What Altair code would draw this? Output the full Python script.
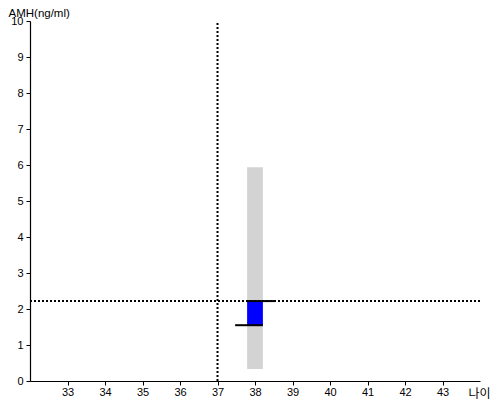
import altair as alt
import pandas as pd

# Data
age_ticks = [33, 34, 35, 36, 37, 38, 39, 40, 41, 42, 43]
amh_ticks = [0, 1, 2, 3, 4, 5, 6, 7, 8, 9, 10]

# grey reference range at age 38
range_x = [37.79]
range_x2 = [38.21]
range_low = [0.33]
range_high = [5.94]

# blue box (measured value band)
box_low = [1.55]
box_high = [2.22]

# black marker lines
line_x = [37.79, 37.47]
line_x2 = [38.53, 38.21]
line_y = [2.22, 1.55]

# dotted guides
guide_age = [37]
guide_amh = [2.22]

X_DOMAIN = [32, 44]
Y_DOMAIN = [0, 10]

xs = alt.Scale(domain=X_DOMAIN, nice=False, zero=False)
ys = alt.Scale(domain=Y_DOMAIN, nice=False)

x_axis = alt.Axis(values=age_ticks, title="나이", grid=False, domainColor="black",
                  tickColor="black", labelColor="black", labelFont="Liberation Sans",
                  labelFontSize=11, tickSize=4, domainWidth=1.2, tickWidth=1,
                  labelOverlap=False, labelFlush=False,
                  titleFont="Noto Sans CJK KR", titleFontSize=12, titleFontWeight="normal",
                  titleAnchor="start", titleAlign="left", titleX=438, titleY=16,
                  titleBaseline="alphabetic", labelPadding=1)
y_axis = alt.Axis(values=amh_ticks, title="AMH(ng/ml)", grid=False, domainColor="black",
                  tickColor="black", labelColor="black", labelFont="Liberation Sans",
                  labelFontSize=11, tickSize=4, domainWidth=1.2, tickWidth=1,
                  labelOverlap=False, labelFlush=False,
                  titleFont="Liberation Sans", titleFontSize=11.5, titleFontWeight="normal",
                  titleAngle=0, titleAlign="left", titleX=-22, titleY=-5,
                  titleBaseline="alphabetic", labelPadding=3)

df_range = pd.DataFrame({"x": range_x, "x2": range_x2, "lo": range_low, "hi": range_high})
df_box = pd.DataFrame({"x": range_x, "x2": range_x2, "lo": box_low, "hi": box_high})
df_lines = pd.DataFrame({"x": line_x, "x2": line_x2, "y": line_y})
df_vg = pd.DataFrame({"x": guide_age, "lo": [Y_DOMAIN[0]], "hi": [Y_DOMAIN[1]]})
df_hg = pd.DataFrame({"y": guide_amh, "lo": [X_DOMAIN[0]], "hi": [X_DOMAIN[1]]})

grey = alt.Chart(df_range).mark_rect(color="#d3d3d3").encode(
    x=alt.X("x:Q", scale=xs, axis=x_axis), x2="x2:Q",
    y=alt.Y("lo:Q", scale=ys, axis=y_axis), y2="hi:Q")

blue = alt.Chart(df_box).mark_rect(color="#0000ff").encode(
    x=alt.X("x:Q", scale=xs, axis=x_axis), x2="x2:Q",
    y=alt.Y("lo:Q", scale=ys, axis=y_axis), y2="hi:Q")

vguide = alt.Chart(df_vg).mark_rule(color="black", strokeDash=[2, 2], strokeWidth=2).encode(
    x=alt.X("x:Q", scale=xs, axis=x_axis), y=alt.Y("lo:Q", scale=ys, axis=y_axis), y2="hi:Q")

hguide = alt.Chart(df_hg).mark_rule(color="black", strokeDash=[2, 2], strokeWidth=2).encode(
    y=alt.Y("y:Q", scale=ys, axis=y_axis), x=alt.X("lo:Q", scale=xs, axis=x_axis), x2="hi:Q")

blines = alt.Chart(df_lines).mark_rule(color="black", strokeWidth=2).encode(
    x=alt.X("x:Q", scale=xs, axis=x_axis), x2="x2:Q", y=alt.Y("y:Q", scale=ys, axis=y_axis))

chart = alt.layer(grey, blue, vguide, hguide, blines).properties(
    width=450, height=360,
    autosize=alt.AutoSizeParams(type="none"),
    padding={"left": 22, "top": 13, "right": 12, "bottom": 19},
    background="white",
).configure_view(stroke=None)

chart.save("out.html", embed_options={"renderer": "svg", "actions": False})
